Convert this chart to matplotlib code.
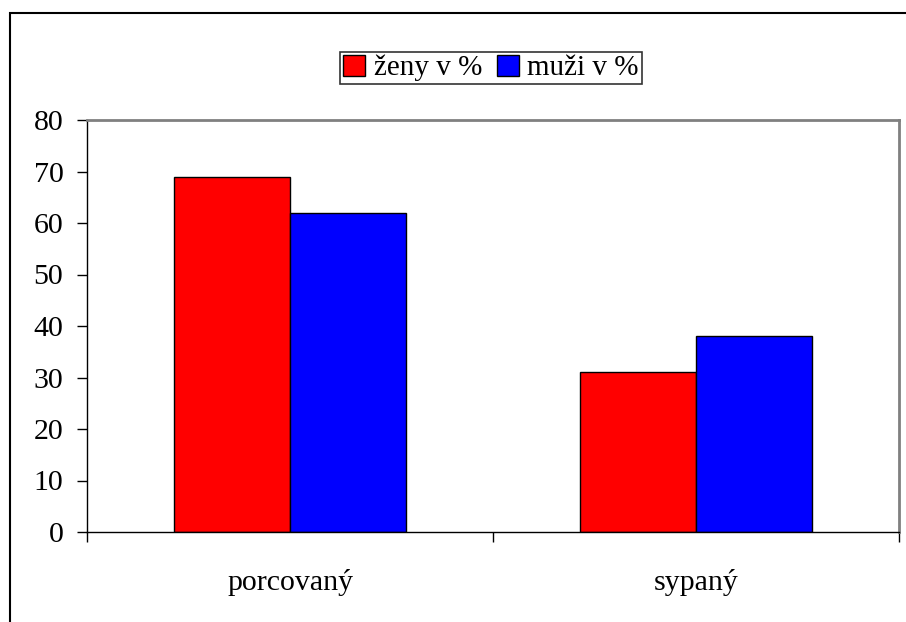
import matplotlib.pyplot as plt
from matplotlib.patches import Rectangle
import numpy as np

plt.rcParams['font.family'] = ['Liberation Serif', 'DejaVu Serif']

kategorie = ['porcovaný', 'sypaný']
zeny = [69, 31]
muzi = [62, 38]
serie = ['ženy v %', 'muži v %']
barvy = ['#ff0000', '#0000ff']

fig = plt.figure(figsize=(9.06, 6.22), dpi=100)
# plot area in pixels: left 87, right 899, top 120, bottom 532
ax = fig.add_axes([87/906, 1 - 532/622, (899-87)/906, (532-120)/622])

# outer chart border (runs off the right and bottom edges)
fig.patches.append(Rectangle((9.5/906, -0.1), 1.2, 1.1 - 12.5/622, transform=fig.transFigure,
                             fill=False, edgecolor='black', linewidth=1.5))

x = np.arange(len(kategorie))
w = 1 / 3.5
ax.bar(x - w/2, zeny, w, color=barvy[0], edgecolor='black', linewidth=1, label=serie[0])
ax.bar(x + w/2, muzi, w, color=barvy[1], edgecolor='black', linewidth=1, label=serie[1])

ax.set_xlim(-0.5, len(kategorie) - 0.5)
ax.set_ylim(0, 80)
ax.set_yticks(range(0, 81, 10))
ax.tick_params(axis='y', labelsize=21.5, length=7, width=1, direction='out', pad=10)

ax.set_xticks(np.arange(-0.5, len(kategorie)), labels=[])
ax.tick_params(axis='x', which='major', length=7, width=1, direction='out')
ax.set_xticks(x, labels=kategorie, minor=True)
ax.tick_params(axis='x', which='minor', length=0, labelsize=21.5, pad=27)

for s in ['top', 'right']:
    ax.spines[s].set_color('#808080')
    ax.spines[s].set_linewidth(2)
ax.spines['left'].set_linewidth(1)
ax.spines['bottom'].set_linewidth(1)

leg = fig.legend(loc='center', bbox_to_anchor=(491/906, 1 - 68/622), ncol=2, fontsize=21,
                 frameon=True, fancybox=False, edgecolor='black', handlelength=0.75,
                 handleheight=0.75, handletextpad=0.3, columnspacing=0.5, borderpad=0.1,
                 borderaxespad=0)
leg.get_frame().set_linewidth(1.2)

plt.savefig('out.png', dpi=100)
